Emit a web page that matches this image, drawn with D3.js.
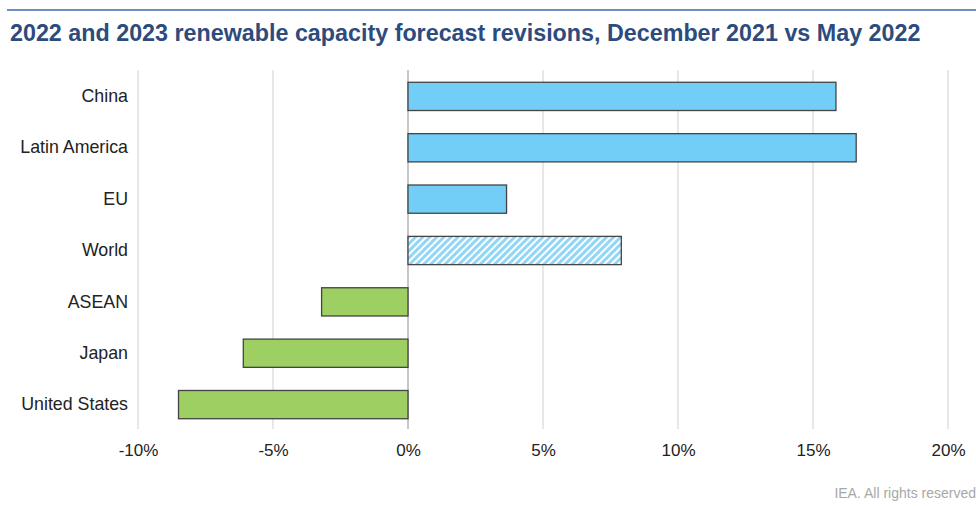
<!DOCTYPE html>
<html>
<head>
<meta charset="utf-8">
<script src="https://cdn.jsdelivr.net/npm/d3@7"></script>
<style>
	body { margin: 0; background: #fff; }
	text { font-family: "Liberation Sans", Arial, sans-serif; }
</style>
</head>
<body>
<div id="chart"></div>
<script>
// data
const regions = ["China", "Latin America", "EU", "World", "ASEAN", "Japan", "United States"];
const revisions = [15.85, 16.6, 3.65, 7.9, -3.2, -6.1, -8.5];
const xTicks = [-10, -5, 0, 5, 10, 15, 20];

const W = 976, H = 506;
const margin = { top: 70, right: 28, bottom: 77, left: 138 };

const svg = d3.select("#chart").append("svg")
	.attr("width", W)
	.attr("height", H);

// pattern for world bar
const defs = svg.append("defs");
const pat = defs.append("pattern")
	.attr("id", "hatch")
	.attr("patternUnits", "userSpaceOnUse")
	.attr("width", 5)
	.attr("height", 5)
	.attr("patternTransform", "rotate(45)");
pat.append("rect").attr("width", 5).attr("height", 5).attr("fill", "#ffffff");
pat.append("rect").attr("width", 3).attr("height", 5).attr("fill", "#8fd6f7");

// top rule + title
svg.append("line")
	.attr("x1", 7).attr("x2", W)
	.attr("y1", 10).attr("y2", 10)
	.attr("stroke", "#6f8fc0")
	.attr("stroke-width", 2);

svg.append("text")
	.attr("x", 10)
	.attr("y", 41)
	.attr("fill", "#2d4b7d")
	.style("font-size", "23.3px")
	.style("font-weight", "bold")
	.text("2022 and 2023 renewable capacity forecast revisions, December 2021 vs May 2022");

const x = d3.scaleLinear()
	.domain([-10, 20])
	.range([margin.left, W - margin.right]);

const y = d3.scaleBand()
	.domain(regions)
	.range([margin.top + 2, H - margin.bottom])
	.paddingInner(0.45)
	.paddingOuter(0.2);

// gridlines
svg.append("g").selectAll("line")
	.data(xTicks)
	.join("line")
	.attr("x1", d => x(d)).attr("x2", d => x(d))
	.attr("y1", margin.top).attr("y2", 429)
	.attr("stroke", d => d === 0 ? "#b5b5b5" : "#e0e0e0")
	.attr("stroke-width", 1.5);

// x axis labels
const xAxis = d3.axisBottom(x)
	.tickValues(xTicks)
	.tickFormat(d => d + "%")
	.tickSize(0)
	.tickPadding(0);

const gx = svg.append("g")
	.attr("transform", "translate(0,444)")
	.call(xAxis);
gx.select(".domain").remove();
gx.selectAll("text")
	.attr("dy", "0.71em")
	.attr("fill", "#222")
	.style("font-size", "17px");

// y axis labels
const yAxis = d3.axisLeft(y).tickSize(0).tickPadding(10);
const gy = svg.append("g")
	.attr("transform", `translate(${margin.left},0)`)
	.call(yAxis);
gy.select(".domain").remove();
gy.selectAll("text")
	.attr("fill", "#222")
	.style("font-size", "17.8px");

// bars
svg.append("g").selectAll("rect")
	.data(regions.map((r, i) => ({ region: r, value: revisions[i] })))
	.join("rect")
	.attr("x", d => x(Math.min(0, d.value)))
	.attr("y", d => y(d.region))
	.attr("width", d => Math.abs(x(d.value) - x(0)))
	.attr("height", y.bandwidth())
	.attr("fill", d => d.region === "World" ? "url(#hatch)" : (d.value >= 0 ? "#72cdf7" : "#9dcf62"))
	.attr("stroke", "#444")
	.attr("stroke-width", 1.3);

// source note
svg.append("text")
	.attr("x", W)
	.attr("y", 498)
	.attr("text-anchor", "end")
	.attr("fill", "#a8a8a8")
	.style("font-size", "14px")
	.text("IEA. All rights reserved");
</script>
</body>
</html>
